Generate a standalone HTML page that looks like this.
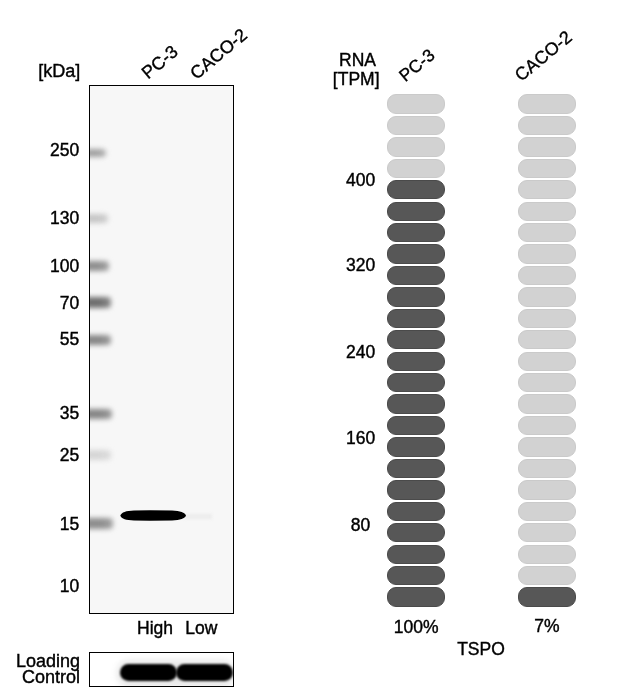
<!DOCTYPE html>
<html><head><meta charset="utf-8"><style>
html,body{margin:0;padding:0;background:#fff;width:641px;height:691px;overflow:hidden;position:relative}
body{font-family:"Liberation Sans",sans-serif;color:#000;will-change:transform}
.t{position:absolute;font-size:17.5px;line-height:17px;white-space:nowrap;-webkit-text-stroke:0.4px #000}
.frame{position:absolute;border:1px solid #000;box-sizing:border-box;overflow:hidden}
.blot{background:#f7f7f7}
.lad{position:absolute;filter:blur(2.6px);border-radius:4px}
.bar{position:absolute;width:58.5px;height:19.3px;border-radius:9px;box-sizing:border-box}
.lt{background:#d2d2d2;border:1px solid #cacaca}
.dk{background:#575757;border:1px solid #4a4a4a}
</style></head><body>

<div class="t" style="left:38.30px;top:62.77px;font-size:18px">[kDa]</div>
<svg style="position:absolute;left:0;top:0" width="641" height="691"><g font-family="Liberation Sans" font-size="17.9" fill="#000" stroke="#000" stroke-width="0.35"><text transform="translate(148,79.8) rotate(-40)">PC-3</text><text transform="translate(196.5,80.2) rotate(-40)">CACO-2</text><text font-size="17.5" transform="translate(405.2,82.5) rotate(-39.5)">PC-3</text><text transform="translate(521.1,82.1) rotate(-39.5)">CACO-2</text></g></svg>
<div class="frame blot" style="left:89px;top:85px;width:145px;height:529px">
<div class="lad" style="left:-6px;top:62.6px;width:22.0px;height:8px;background:linear-gradient(90deg,#a0a0a0 60%,#a0a0a0cc 100%)"></div>
<div class="lad" style="left:-6px;top:127.7px;width:23.5px;height:9px;background:linear-gradient(90deg,#c6c6c6 60%,#c6c6c6cc 100%)"></div>
<div class="lad" style="left:-6px;top:175.2px;width:24.5px;height:10px;background:linear-gradient(90deg,#8f8f8f 60%,#8f8f8fcc 100%)"></div>
<div class="lad" style="left:-6px;top:211.1px;width:26.5px;height:11px;background:linear-gradient(90deg,#6f6f6f 60%,#6f6f6fcc 100%)"></div>
<div class="lad" style="left:-6px;top:249.4px;width:26.5px;height:10px;background:linear-gradient(90deg,#878787 60%,#878787cc 100%)"></div>
<div class="lad" style="left:-6px;top:323.2px;width:28.0px;height:10px;background:linear-gradient(90deg,#868686 60%,#868686cc 100%)"></div>
<div class="lad" style="left:-6px;top:363.5px;width:26.5px;height:10px;background:linear-gradient(90deg,#d6d6d6 60%,#d6d6d6cc 100%)"></div>
<div class="lad" style="left:-6px;top:432.4px;width:28.5px;height:11px;background:linear-gradient(90deg,#8e8e8e 60%,#8e8e8ecc 100%)"></div>
<div style="position:absolute;left:94.0px;top:427.5px;width:28px;height:5px;background:#ececec;filter:blur(1.5px)"></div>
</div>
<svg style="position:absolute;left:0;top:0" width="641" height="691"><defs><filter id="b1" x="-20%" y="-50%" width="140%" height="200%"><feGaussianBlur stdDeviation="0.55"/></filter></defs><path filter="url(#b1)" fill="#000" d="M120.3,515.6 C121.5,512.2 126,510.6 134,510.4 L150,510.2 L172,510.4 C180,510.6 185,512.5 186,515.6 C185,518.6 180,520.4 172,520.6 L150,520.8 L134,520.6 C126,520.4 121.5,519 120.3,515.6 Z"/></svg>
<div class="t" style="right:561.70px;top:141.80px">250</div>
<div class="t" style="right:561.70px;top:209.80px">130</div>
<div class="t" style="right:561.70px;top:258.30px">100</div>
<div class="t" style="right:561.70px;top:294.70px">70</div>
<div class="t" style="right:561.70px;top:330.60px">55</div>
<div class="t" style="right:561.70px;top:404.80px">35</div>
<div class="t" style="right:561.70px;top:447.30px">25</div>
<div class="t" style="right:561.70px;top:515.90px">15</div>
<div class="t" style="right:561.70px;top:578.30px">10</div>
<div class="t" style="left:137.10px;top:620.17px">High</div>
<div class="t" style="left:185.20px;top:620.17px">Low</div>
<div class="t" style="right:561.00px;top:652.97px;font-size:18px">Loading</div>
<div class="t" style="right:561.00px;top:669.17px;font-size:18px">Control</div>
<div class="frame" style="left:89px;top:652px;width:145px;height:35px;background:#fff">
<div style="position:absolute;left:27px;top:7px;width:118px;height:27px;background:#e8e8e8;border-radius:12px;filter:blur(3px)"></div>
<div style="position:absolute;left:29.5px;top:11px;width:57px;height:17px;background:#000;border-radius:8.5px;filter:blur(1.1px)"></div>
<div style="position:absolute;left:85.5px;top:11px;width:57.5px;height:17px;background:#000;border-radius:8.5px;filter:blur(1.1px)"></div>
</div>
<div class="t" style="left:297.50px;width:120px;text-align:center;top:51.57px">RNA</div>
<div class="t" style="left:296.20px;width:120px;text-align:center;top:71.47px">[TPM]</div>
<div class="bar lt" style="left:386.5px;top:94.40px"></div>
<div class="bar lt" style="left:517.7px;top:94.40px"></div>
<div class="bar lt" style="left:386.5px;top:115.84px"></div>
<div class="bar lt" style="left:517.7px;top:115.84px"></div>
<div class="bar lt" style="left:386.5px;top:137.27px"></div>
<div class="bar lt" style="left:517.7px;top:137.27px"></div>
<div class="bar lt" style="left:386.5px;top:158.70px"></div>
<div class="bar lt" style="left:517.7px;top:158.70px"></div>
<div class="bar dk" style="left:386.5px;top:180.14px"></div>
<div class="bar lt" style="left:517.7px;top:180.14px"></div>
<div class="bar dk" style="left:386.5px;top:201.57px"></div>
<div class="bar lt" style="left:517.7px;top:201.57px"></div>
<div class="bar dk" style="left:386.5px;top:223.01px"></div>
<div class="bar lt" style="left:517.7px;top:223.01px"></div>
<div class="bar dk" style="left:386.5px;top:244.44px"></div>
<div class="bar lt" style="left:517.7px;top:244.44px"></div>
<div class="bar dk" style="left:386.5px;top:265.88px"></div>
<div class="bar lt" style="left:517.7px;top:265.88px"></div>
<div class="bar dk" style="left:386.5px;top:287.31px"></div>
<div class="bar lt" style="left:517.7px;top:287.31px"></div>
<div class="bar dk" style="left:386.5px;top:308.75px"></div>
<div class="bar lt" style="left:517.7px;top:308.75px"></div>
<div class="bar dk" style="left:386.5px;top:330.19px"></div>
<div class="bar lt" style="left:517.7px;top:330.19px"></div>
<div class="bar dk" style="left:386.5px;top:351.62px"></div>
<div class="bar lt" style="left:517.7px;top:351.62px"></div>
<div class="bar dk" style="left:386.5px;top:373.05px"></div>
<div class="bar lt" style="left:517.7px;top:373.05px"></div>
<div class="bar dk" style="left:386.5px;top:394.49px"></div>
<div class="bar lt" style="left:517.7px;top:394.49px"></div>
<div class="bar dk" style="left:386.5px;top:415.92px"></div>
<div class="bar lt" style="left:517.7px;top:415.92px"></div>
<div class="bar dk" style="left:386.5px;top:437.36px"></div>
<div class="bar lt" style="left:517.7px;top:437.36px"></div>
<div class="bar dk" style="left:386.5px;top:458.79px"></div>
<div class="bar lt" style="left:517.7px;top:458.79px"></div>
<div class="bar dk" style="left:386.5px;top:480.23px"></div>
<div class="bar lt" style="left:517.7px;top:480.23px"></div>
<div class="bar dk" style="left:386.5px;top:501.66px"></div>
<div class="bar lt" style="left:517.7px;top:501.66px"></div>
<div class="bar dk" style="left:386.5px;top:523.10px"></div>
<div class="bar lt" style="left:517.7px;top:523.10px"></div>
<div class="bar dk" style="left:386.5px;top:544.53px"></div>
<div class="bar lt" style="left:517.7px;top:544.53px"></div>
<div class="bar dk" style="left:386.5px;top:565.97px"></div>
<div class="bar lt" style="left:517.7px;top:565.97px"></div>
<div class="bar dk" style="left:386.5px;top:587.40px"></div>
<div class="bar dk" style="left:517.7px;top:587.40px"></div>
<div class="t" style="left:300.60px;width:120px;text-align:center;top:171.80px">400</div>
<div class="t" style="left:300.60px;width:120px;text-align:center;top:257.20px">320</div>
<div class="t" style="left:300.60px;width:120px;text-align:center;top:344.00px">240</div>
<div class="t" style="left:300.60px;width:120px;text-align:center;top:429.70px">160</div>
<div class="t" style="left:300.60px;width:120px;text-align:center;top:516.50px">80</div>
<div class="t" style="left:356.20px;width:120px;text-align:center;top:618.97px">100%</div>
<div class="t" style="left:487.00px;width:120px;text-align:center;top:618.47px">7%</div>
<div class="t" style="left:421.00px;width:120px;text-align:center;top:640.87px">TSPO</div>
</body></html>
